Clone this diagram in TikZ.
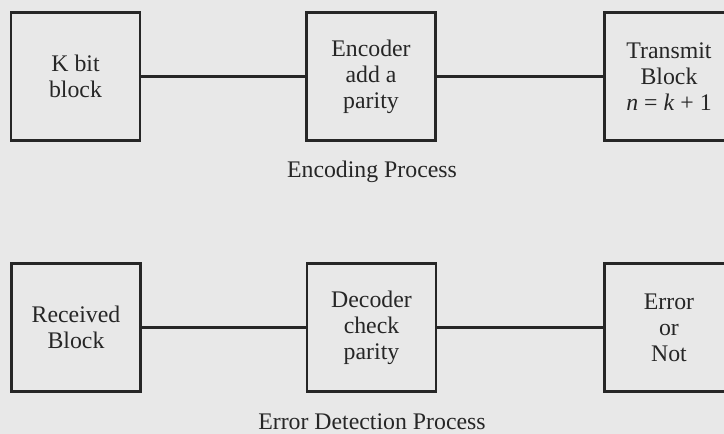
\documentclass[tikz,border=0pt]{standalone}
\usepackage{fontspec}
\setmainfont{Liberation Serif}
\usetikzlibrary{positioning}

\begin{document}
\begin{tikzpicture}[x=1pt,y=1pt]
		\tikzset{block/.style = {shape=rectangle, draw=black!85, line width=2.6pt, minimum width=129pt, minimum height=128pt, align=center, font=\fontsize{23.8}{26}\selectfont, text=black!85}}
		\tikzset{edge/.style = {draw=black!85, line width=2.4pt}}
		\tikzset{caption/.style = {font=\fontsize{23.8}{26}\selectfont, text=black!85}}

		\fill[black!9] (0,0) rectangle (724,434);
		\useasboundingbox (0,0) rectangle (724,434);

		\node[block] (K) at (75.5,357.5) {K bit\\block};
		\node[block] (E) at (371,357.5) {Encoder\\add a\\parity};
		\node[block] (T) at (669,357.5) {Transmit\\Block\\\textit{n} = \textit{k} + 1};
		\node[caption] (EP) at (372,262) {Encoding Process};

		\node[block] (R) at (76,106.5) {Received\\Block};
		\node[block] (D) at (371.5,106.5) {Decoder\\check\\parity};
		\node[block] (N) at (669,106.5) {Error\\or\\Not};
		\node[caption] (DP) at (372,12) {Error Detection Process};

		\draw[edge] (K) to (E);
		\draw[edge] (E) to (T);
		\draw[edge] (R) to (D);
		\draw[edge] (D) to (N);

	\end{tikzpicture}
\end{document}
